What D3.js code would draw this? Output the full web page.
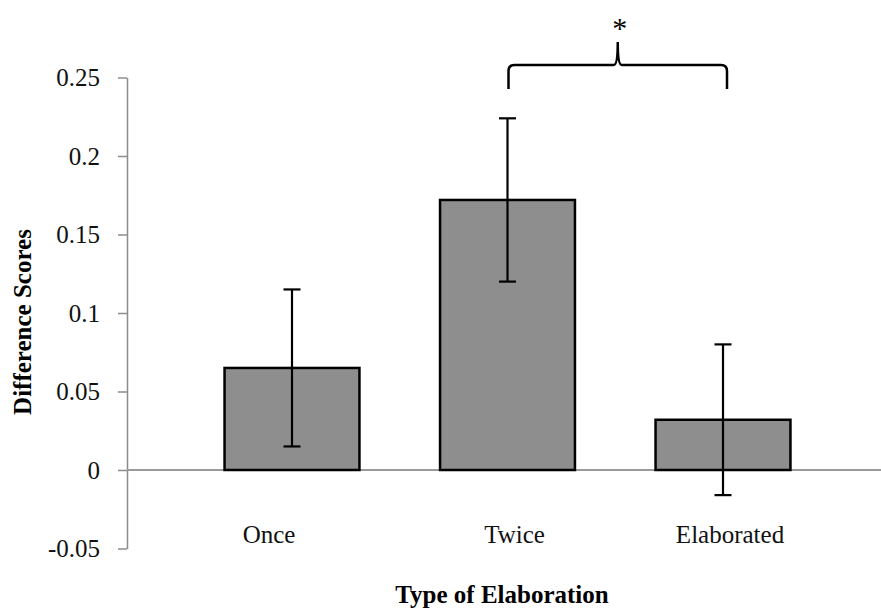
<!DOCTYPE html>
<html>
<head>
<meta charset="utf-8">
<script src="https://cdn.jsdelivr.net/npm/d3@7"></script>
<style>
  body { margin: 0; background: #fff; }
  svg { display: block; }
  .axis path, .axis line { stroke: #8c8c8c; stroke-width: 1.5px; }
</style>
</head>
<body>
<script>
var categories = ["Once", "Twice", "Elaborated"];
var means = [0.065, 0.172, 0.032];
var errors = [0.050, 0.052, 0.048];
var yTicks = [-0.05, 0, 0.05, 0.1, 0.15, 0.2, 0.25];
var yTickLabels = ["-0.05", "0", "0.05", "0.1", "0.15", "0.2", "0.25"];
var bracePair = ["Twice", "Elaborated"];

var width = 881, height = 611;
var serif = "'Liberation Serif', 'Times New Roman', serif";

var svg = d3.select("body").append("svg")
  .attr("width", width)
  .attr("height", height)
  .style("font-family", serif);

var x = d3.scaleBand()
  .domain(categories)
  .range([184.25, 830.75])
  .paddingInner(0.374)
  .paddingOuter(0.187);

var y = d3.scaleLinear()
  .domain([-0.05, 0.25])
  .range([548.5, 77.5]);

var axisX = 127;

// y axis
var yAxis = d3.axisLeft(y)
  .tickValues(yTicks)
  .tickFormat(function(d, i) { return yTickLabels[i]; })
  .tickSize(9)
  .tickPadding(18)
  .tickSizeOuter(0);

var gy = svg.append("g")
  .attr("class", "axis")
  .attr("transform", "translate(" + axisX + ",0)")
  .call(yAxis)
  .attr("font-family", serif)
  .attr("font-size", 25);
gy.selectAll("text")
  .attr("fill", "#111");

// zero line (category axis)
svg.append("line")
  .attr("x1", axisX)
  .attr("x2", width)
  .attr("y1", y(0))
  .attr("y2", y(0))
  .attr("stroke", "#9a9a9a")
  .attr("stroke-width", 2);

// bars
svg.selectAll(".bar")
  .data(categories)
  .enter().append("rect")
  .attr("class", "bar")
  .attr("x", function(d) { return x(d); })
  .attr("width", x.bandwidth())
  .attr("y", function(d, i) { return y(Math.max(0, means[i])); })
  .attr("height", function(d, i) { return Math.abs(y(means[i]) - y(0)); })
  .attr("fill", "#8e8e8e")
  .attr("stroke", "#000")
  .attr("stroke-width", 2.5);

// error bars
var capW = 17;
var eb = svg.selectAll(".err")
  .data(categories)
  .enter().append("g")
  .attr("class", "err")
  .attr("stroke", "#000")
  .attr("stroke-width", 2.2);

eb.append("line")
  .attr("x1", function(d) { return x(d) + x.bandwidth() / 2; })
  .attr("x2", function(d) { return x(d) + x.bandwidth() / 2; })
  .attr("y1", function(d, i) { return y(means[i] + errors[i]); })
  .attr("y2", function(d, i) { return y(means[i] - errors[i]); });

[1, -1].forEach(function(s) {
  eb.append("line")
    .attr("x1", function(d) { return x(d) + x.bandwidth() / 2 - capW / 2; })
    .attr("x2", function(d) { return x(d) + x.bandwidth() / 2 + capW / 2; })
    .attr("y1", function(d, i) { return y(means[i] + s * errors[i]); })
    .attr("y2", function(d, i) { return y(means[i] + s * errors[i]); });
});

// category labels (nudged the way the original sits them)
var labelNudge = [-23, 7, 7];
svg.selectAll(".cat")
  .data(categories)
  .enter().append("text")
  .attr("class", "cat")
  .attr("x", function(d, i) { return x(d) + x.bandwidth() / 2 + labelNudge[i]; })
  .attr("y", 543)
  .attr("text-anchor", "middle")
  .attr("fill", "#111")
  .style("font-size", "25px")
  .text(function(d) { return d; });

// axis titles
svg.append("text")
  .attr("x", 502)
  .attr("y", 603)
  .attr("text-anchor", "middle")
  .attr("fill", "#000")
  .style("font-size", "25px")
  .style("font-weight", "bold")
  .text("Type of Elaboration");

svg.append("text")
  .attr("transform", "translate(31,322) rotate(-90)")
  .attr("text-anchor", "middle")
  .attr("fill", "#000")
  .style("font-size", "25px")
  .style("font-weight", "bold")
  .text("Difference Scores");

// significance brace between Twice and Elaborated
var bx0 = x(bracePair[0]) + x.bandwidth() / 2 + 1;
var bx1 = x(bracePair[1]) + x.bandwidth() / 2 + 4;
var bm = (bx0 + bx1) / 2;
var by = 65, bEnd = 89, bTip = 42, r = 6;

var p = d3.path();
p.moveTo(bx0, bEnd);
p.lineTo(bx0, by + r);
p.quadraticCurveTo(bx0, by, bx0 + r, by);
p.lineTo(bm - 4, by);
p.quadraticCurveTo(bm, by, bm, bTip);
p.quadraticCurveTo(bm, by, bm + 4, by);
p.lineTo(bx1 - r, by);
p.quadraticCurveTo(bx1, by, bx1, by + r);
p.lineTo(bx1, bEnd);

svg.append("path")
  .attr("d", p.toString())
  .attr("fill", "none")
  .attr("stroke", "#000")
  .attr("stroke-width", 2.5);

svg.append("text")
  .attr("x", bm + 2)
  .attr("y", 38)
  .attr("text-anchor", "middle")
  .attr("fill", "#000")
  .style("font-size", "30px")
  .text("*");
</script>
</body>
</html>
